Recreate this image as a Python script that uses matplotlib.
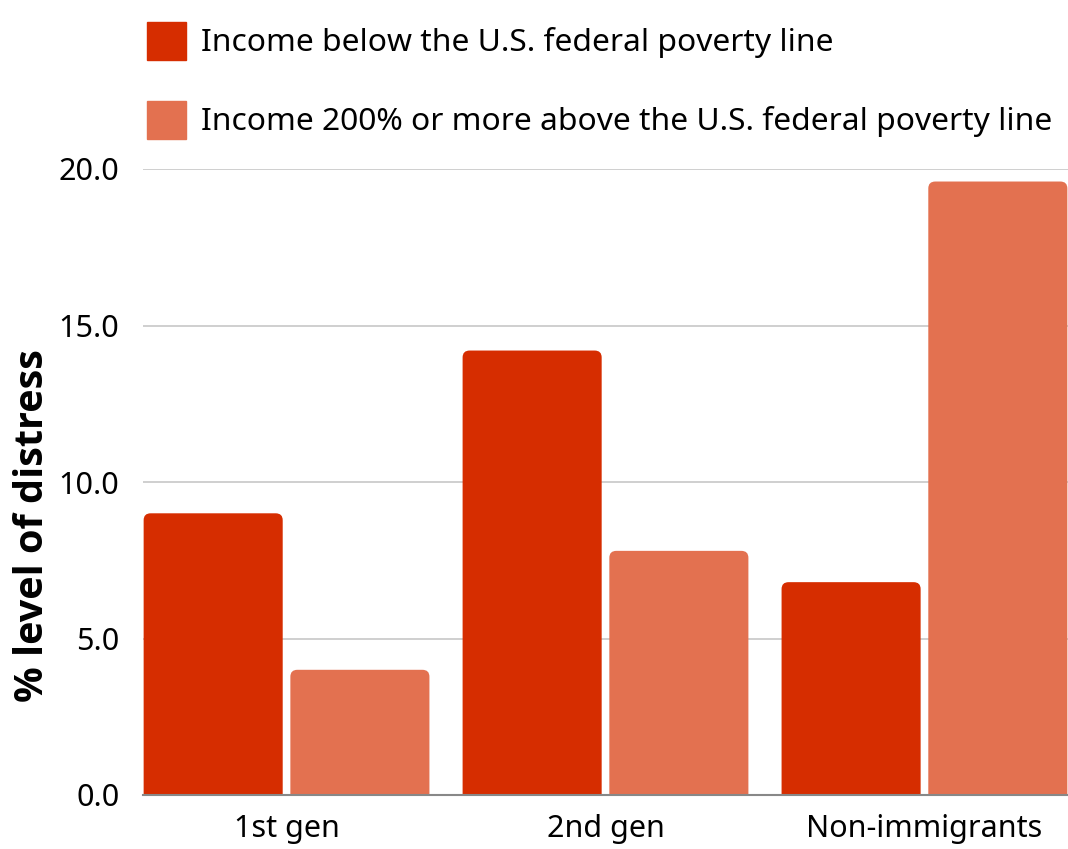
import matplotlib.pyplot as plt
import numpy as np
from matplotlib.patches import FancyBboxPatch

plt.rcParams['font.family'] = ['Noto Sans', 'DejaVu Sans']

groups = ["1st gen", "2nd gen", "Non-immigrants"]
below_poverty = [9.0, 14.2, 6.8]
above_200 = [4.0, 7.8, 19.6]
series_labels = ["Income below the U.S. federal poverty line",
                 "Income 200% or more above the U.S. federal poverty line"]
yticks = [0.0, 5.0, 10.0, 15.0, 20.0]

red = "#d62d00"
salmon = "#e37150"

fig = plt.figure(figsize=(10.68, 8.49), dpi=100)
ax = fig.add_axes([143 / 1068, 1 - 795 / 849, 1 - 143 / 1068, (795 - 169) / 849])

x = np.arange(len(groups))
width = 0.436
offset = 0.23


def rounded_bars(xs, values, color, label):
    # invisible bars for legend handles, rounded patches drawn on top
    bars = ax.bar(xs, values, width, color=color, label=label, alpha=0)
    for rect in bars:
        p = FancyBboxPatch((rect.get_x(), -1), rect.get_width(), rect.get_height() + 1,
                           boxstyle="round,pad=0,rounding_size=0.022",
                           mutation_aspect=10, facecolor=color, edgecolor="none",
                           zorder=3, clip_on=True)
        ax.add_patch(p)
    return bars


b1 = rounded_bars(x - offset, below_poverty, red, series_labels[0])
b2 = rounded_bars(x + offset, above_200, salmon, series_labels[1])

ax.set_xlim(-0.45, 2.45)
ax.set_ylim(0, 20)
ax.set_yticks(yticks)
ax.set_yticklabels([f"{v:.1f}" for v in yticks])
ax.set_xticks(x)
ax.set_xticklabels(groups)
ax.tick_params(axis="both", length=0, labelsize=22, colors="black")
ax.tick_params(axis="y", pad=17)
ax.tick_params(axis="x", pad=14)
ax.grid(axis="y", color="#cccccc", linewidth=1.3, zorder=0)
ax.set_axisbelow(True)
for s in ["top", "right", "left"]:
    ax.spines[s].set_visible(False)
ax.spines["bottom"].set_color("#888888")
ax.spines["bottom"].set_linewidth(1.5)
ax.spines["bottom"].set_zorder(4)

ax.set_ylabel("% level of distress", fontsize=28.5, fontweight="bold",
              family=["Open Sans", "DejaVu Sans"])
ax.yaxis.set_label_coords(-0.098, 0.431)

handles = [plt.Rectangle((0, 0), 1, 1, color=red), plt.Rectangle((0, 0), 1, 1, color=salmon)]
fig.legend(handles, series_labels, loc="upper left", bbox_to_anchor=(134 / 1068, 1 - 9 / 849),
           frameon=False, fontsize=22.9, handlelength=1.22, handleheight=1.47,
           handletextpad=0.5, labelspacing=1.28, borderaxespad=0)

fig.savefig("out.png", dpi=100)
